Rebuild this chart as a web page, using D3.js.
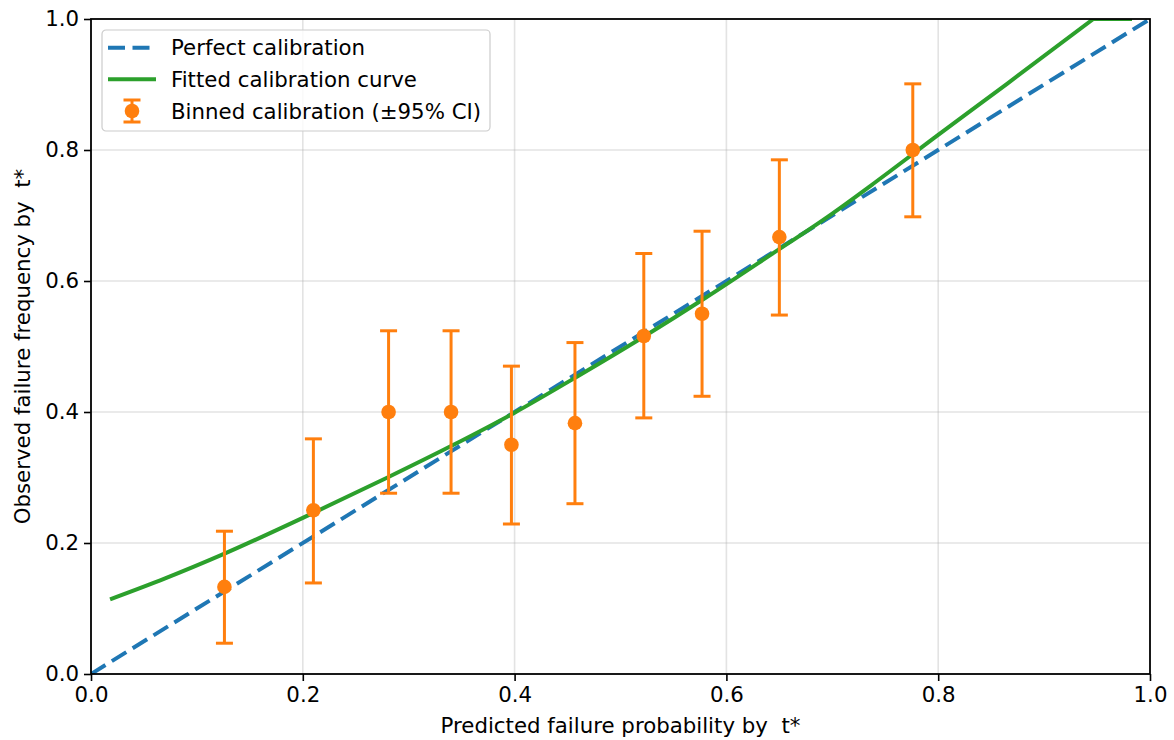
<!DOCTYPE html>
<html>
<head>
<meta charset="utf-8">
<script src="https://cdn.jsdelivr.net/npm/d3@7"></script>
<style>
  html, body { margin: 0; padding: 0; background: #fff; }
  svg text { font-family: "DejaVu Sans", sans-serif; fill: #000; }
</style>
</head>
<body>
<svg id="chart" width="1174" height="740"></svg>
<script>
// Binned calibration points (mean predicted vs observed) with 95% CI bounds
const binPred = [0.126, 0.210, 0.281, 0.340, 0.397, 0.457, 0.522, 0.577, 0.650, 0.776];
const binObs  = [0.133, 0.250, 0.400, 0.400, 0.350, 0.383, 0.516, 0.550, 0.667, 0.800];
const binLow  = [0.047, 0.139, 0.276, 0.276, 0.229, 0.260, 0.391, 0.424, 0.548, 0.698];
const binHigh = [0.218, 0.359, 0.524, 0.524, 0.470, 0.506, 0.642, 0.676, 0.785, 0.901];

// Fitted calibration curve, sampled along the predicted-probability axis
// (the fit is clipped at 1.0 towards the right end)
const fitX = [0.018, 0.070, 0.125, 0.210, 0.280, 0.340, 0.400, 0.460, 0.520, 0.580, 0.640, 0.700, 0.740, 0.800, 0.865, 0.9465, 0.983];
const fitY = [0.114, 0.146, 0.183, 0.246, 0.300, 0.348, 0.399, 0.455, 0.513, 0.574, 0.638, 0.703, 0.750, 0.823, 0.901, 1.000, 1.000];

// Perfect calibration reference
const diagX = [0, 1];

const xTicks = [0.0, 0.2, 0.4, 0.6, 0.8, 1.0];
const yTicks = [0.0, 0.2, 0.4, 0.6, 0.8, 1.0];

const legendLabels = ["Perfect calibration", "Fitted calibration curve", "Binned calibration (\u00b195% CI)"];

const blue = "#1f77b4", green = "#2ca02c", orange = "#ff7f0e";

const margin = { left: 91, right: 1174 - 1150, top: 19, bottom: 740 - 674 };
const W = 1174, H = 740;
const svg = d3.select("#chart");

const x = d3.scaleLinear().domain([0, 1]).range([margin.left, W - margin.right]);
const y = d3.scaleLinear().domain([0, 1]).range([H - margin.bottom, margin.top]);

const fs = 21.3;

// grid
const grid = svg.append("g");
grid.selectAll("line.gx").data(xTicks.slice(1, -1)).join("line")
  .attr("x1", d => x(d)).attr("x2", d => x(d))
  .attr("y1", y(0)).attr("y2", y(1))
  .attr("stroke", "#b0b0b0").attr("stroke-opacity", 0.35).attr("stroke-width", 1.6);
grid.selectAll("line.gy").data(yTicks.slice(1, -1)).join("line")
  .attr("y1", d => y(d)).attr("y2", d => y(d))
  .attr("x1", x(0)).attr("x2", x(1))
  .attr("stroke", "#b0b0b0").attr("stroke-opacity", 0.35).attr("stroke-width", 1.6);

// clip to plotting area
svg.append("clipPath").attr("id", "plotclip").append("rect")
  .attr("x", x(0)).attr("y", y(1)).attr("width", x(1) - x(0)).attr("height", y(0) - y(1));

const plot = svg.append("g").attr("clip-path", "url(#plotclip)");

// perfect calibration diagonal
plot.append("path")
  .datum(diagX)
  .attr("d", d3.line().x(d => x(d)).y(d => y(d)))
  .attr("fill", "none").attr("stroke", blue).attr("stroke-width", 4)
  .attr("stroke-dasharray", "17,7.5");

// fitted curve: smooth rising part, then the clipped flat segment at 1.0
const fitPts = fitX.map((d, i) => [d, fitY[i]]);
const rising = fitPts.slice(0, -1);
const flat = fitPts[fitPts.length - 1];
const fitPath = d3.line().x(d => x(d[0])).y(d => y(d[1])).curve(d3.curveMonotoneX)(rising)
  + `L${x(flat[0])},${y(flat[1])}`;
plot.append("path")
  .attr("d", fitPath)
  .attr("fill", "none").attr("stroke", green).attr("stroke-width", 4);

// binned points with error bars
const bins = binPred.map((d, i) => ({ p: d, o: binObs[i], lo: binLow[i], hi: binHigh[i] }));
const eb = svg.append("g").selectAll("g").data(bins).join("g");
eb.append("line")
  .attr("x1", d => x(d.p)).attr("x2", d => x(d.p))
  .attr("y1", d => y(d.lo)).attr("y2", d => y(d.hi))
  .attr("stroke", orange).attr("stroke-width", 3);
eb.append("line")
  .attr("x1", d => x(d.p) - 8.5).attr("x2", d => x(d.p) + 8.5)
  .attr("y1", d => y(d.lo)).attr("y2", d => y(d.lo))
  .attr("stroke", orange).attr("stroke-width", 3);
eb.append("line")
  .attr("x1", d => x(d.p) - 8.5).attr("x2", d => x(d.p) + 8.5)
  .attr("y1", d => y(d.hi)).attr("y2", d => y(d.hi))
  .attr("stroke", orange).attr("stroke-width", 3);
eb.append("circle")
  .attr("cx", d => x(d.p)).attr("cy", d => y(d.o)).attr("r", 7.3)
  .attr("fill", orange);

// axes
const xAxis = svg.append("g").attr("transform", `translate(0,${y(0)})`)
  .call(d3.axisBottom(x).tickValues(xTicks).tickFormat(d3.format(".1f")).tickSize(7).tickPadding(6));
const yAxis = svg.append("g").attr("transform", `translate(${x(0)},0)`)
  .call(d3.axisLeft(y).tickValues(yTicks).tickFormat(d3.format(".1f")).tickSize(7).tickPadding(5));
[xAxis, yAxis].forEach(a => {
  a.select(".domain").remove();
  a.selectAll(".tick line").attr("stroke", "#000").attr("stroke-width", 1.6);
  a.selectAll(".tick text").attr("font-size", fs).attr("font-family", "DejaVu Sans");
});

// frame (spines)
svg.append("rect")
  .attr("x", x(0)).attr("y", y(1)).attr("width", x(1) - x(0)).attr("height", y(0) - y(1))
  .attr("fill", "none").attr("stroke", "#000").attr("stroke-width", 1.8);

// axis labels
svg.append("text")
  .attr("x", (x(0) + x(1)) / 2).attr("y", 733)
  .attr("text-anchor", "middle").attr("font-size", fs)
  .style("white-space", "pre")
  .text("Predicted failure probability by  t*");
svg.append("text")
  .attr("transform", `translate(30,${(y(0) + y(1)) / 2}) rotate(-90)`)
  .attr("text-anchor", "middle").attr("font-size", fs)
  .style("white-space", "pre")
  .text("Observed failure frequency by  t*");

// legend
const lg = svg.append("g").attr("transform", "translate(102,30)");
lg.append("rect")
  .attr("width", 388).attr("height", 101).attr("rx", 4)
  .attr("fill", "#fff").attr("fill-opacity", 0.8)
  .attr("stroke", "#cccccc").attr("stroke-width", 1.2);
const rowY = [17.7, 49.3, 81];
// entry 1: dashed line
lg.append("line").attr("x1", 6).attr("x2", 54).attr("y1", rowY[0]).attr("y2", rowY[0])
  .attr("stroke", blue).attr("stroke-width", 4).attr("stroke-dasharray", "17,7.5");
// entry 2: solid line
lg.append("line").attr("x1", 6).attr("x2", 54).attr("y1", rowY[1]).attr("y2", rowY[1])
  .attr("stroke", green).attr("stroke-width", 4);
// entry 3: error bar marker
const ex = 30;
lg.append("line").attr("x1", ex).attr("x2", ex).attr("y1", rowY[2] - 11).attr("y2", rowY[2] + 11)
  .attr("stroke", orange).attr("stroke-width", 3);
[-11, 11].forEach(o => lg.append("line").attr("x1", ex - 8.5).attr("x2", ex + 8.5)
  .attr("y1", rowY[2] + o).attr("y2", rowY[2] + o).attr("stroke", orange).attr("stroke-width", 3));
lg.append("circle").attr("cx", ex).attr("cy", rowY[2]).attr("r", 7.3).attr("fill", orange);

lg.selectAll("text.lbl").data(legendLabels).join("text")
  .attr("x", 69).attr("y", (d, i) => rowY[i]).attr("dy", "0.36em")
  .attr("font-size", fs)
  .text(d => d);
</script>
</body>
</html>
